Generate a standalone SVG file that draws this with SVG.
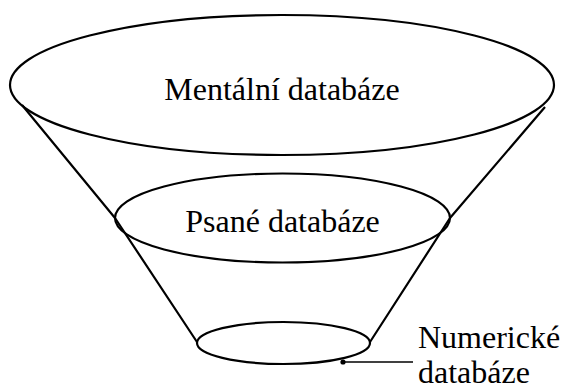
<svg xmlns="http://www.w3.org/2000/svg" width="565" height="390" viewBox="0 0 565 390">
  <style>
    .ring { fill: none; stroke: #000; stroke-width: 2.2; }
    .edge { fill: none; stroke: #000; stroke-width: 2.2; stroke-linejoin: round; }
    .lead { fill: none; stroke: #000; stroke-width: 1.4; }
    text { font-family: 'Liberation Serif', 'Times New Roman', 'DejaVu Serif', serif; font-size: 32px; fill: #000; }
  </style>
  <rect width="565" height="390" fill="#fff"/>

  <!-- funnel sides and leader line -->
  <g id="connectors">
    <polyline class="edge" points="22,105 115,218 197,342"/>
    <polyline class="edge" points="545,107 450,218 370,342"/>
    <line class="lead" x1="343" y1="362" x2="413" y2="362"/>
    <circle cx="343" cy="362" r="2.6" fill="#000"/>
  </g>

  <g id="mental">
    <ellipse class="ring" cx="282" cy="85" rx="272" ry="70"/>
    <text font-family="'Liberation Serif', serif" x="282" y="100" text-anchor="middle">Mentální databáze</text>
  </g>

  <g id="written">
    <ellipse class="ring" cx="282.5" cy="218" rx="167.5" ry="44.5"/>
    <text font-family="'Liberation Serif', serif" x="282.5" y="232" text-anchor="middle">Psané databáze</text>
  </g>

  <g id="numeric">
    <ellipse class="ring" cx="283.5" cy="343" rx="86.5" ry="21"/>
    <text font-family="'Liberation Serif', serif" x="418" y="348">Numerické</text>
    <text font-family="'Liberation Serif', serif" x="418" y="383">databáze</text>
  </g>
</svg>
